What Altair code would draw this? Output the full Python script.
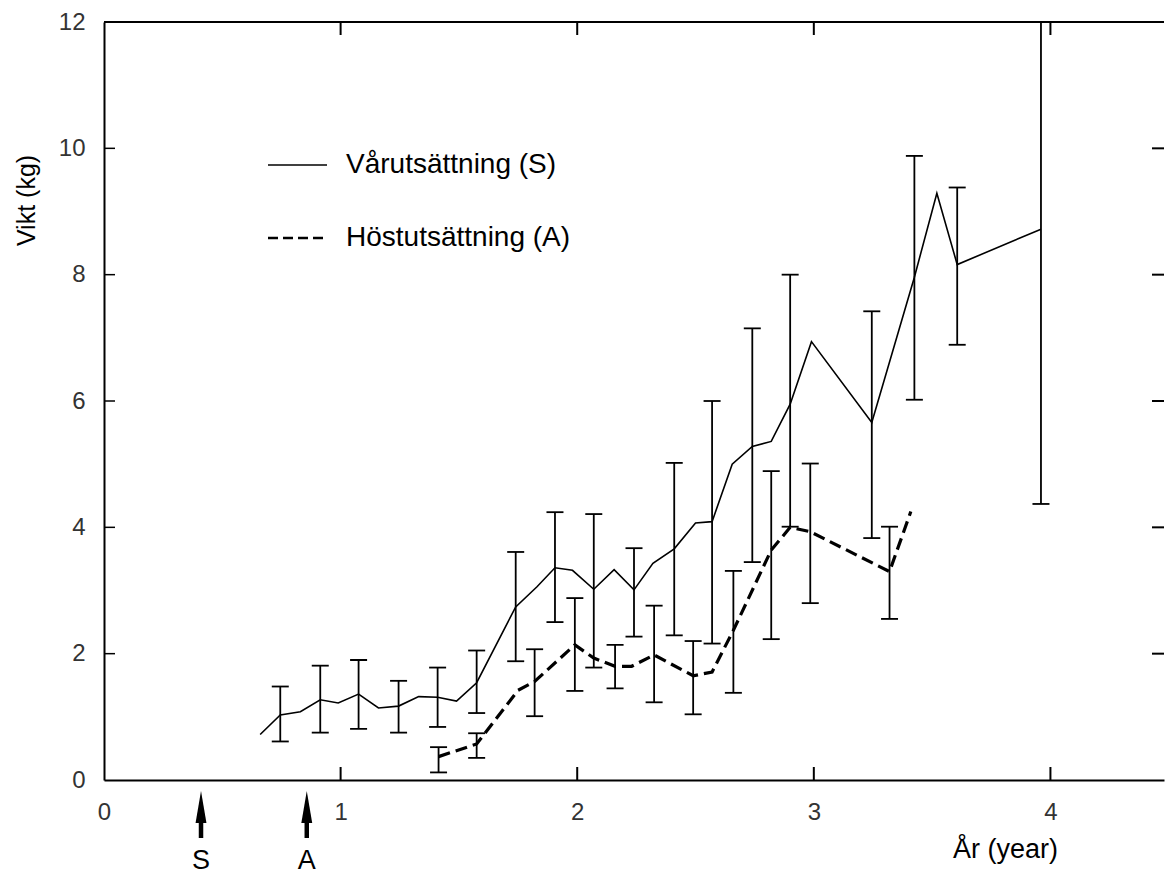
import altair as alt
import pandas as pd

# ---- data ----
s_x = [0.66, 0.745, 0.83, 0.914, 0.99, 1.076, 1.16, 1.245, 1.33, 1.41, 1.49, 1.575, 1.74, 1.83,
       1.906, 1.98, 2.07, 2.156, 2.24, 2.32, 2.41, 2.50, 2.57, 2.655, 2.74, 2.82, 2.90, 2.99,
       3.245, 3.425, 3.52, 3.606, 3.96]
s_y = [0.72, 1.03, 1.08, 1.27, 1.22, 1.36, 1.14, 1.17, 1.32, 1.31, 1.25, 1.54, 2.74, 3.06,
       3.36, 3.32, 3.02, 3.33, 3.01, 3.43, 3.66, 4.07, 4.09, 5.00, 5.28, 5.36, 5.95, 6.94,
       5.66, 7.96, 9.29, 8.16, 8.72]

sb_x = [0.745, 0.914, 1.076, 1.245, 1.41, 1.575, 1.74, 1.906, 2.07, 2.24, 2.41, 2.57, 2.74,
        2.90, 3.245, 3.425, 3.606, 3.96]
sb_lo = [0.61, 0.75, 0.81, 0.75, 0.84, 1.06, 1.88, 2.50, 1.78, 2.27, 2.29, 2.16, 3.45,
         4.01, 3.83, 6.02, 6.89, 4.37]
sb_hi = [1.48, 1.81, 1.90, 1.57, 1.78, 2.05, 3.61, 4.24, 4.21, 3.67, 5.02, 6.00, 7.15,
         8.00, 7.42, 9.88, 9.38, 12.0]

a_x = [1.414, 1.575, 1.75, 1.82, 1.99, 2.07, 2.16, 2.23, 2.325, 2.49, 2.57, 2.66, 2.82,
       2.90, 2.985, 3.32, 3.41]
a_y = [0.37, 0.57, 1.42, 1.56, 2.14, 1.93, 1.80, 1.80, 1.98, 1.65, 1.71, 2.37, 3.64,
       4.00, 3.93, 3.30, 4.25]

ab_x = [1.414, 1.575, 1.82, 1.99, 2.16, 2.325, 2.49, 2.66, 2.82, 2.985, 3.32]
ab_lo = [0.12, 0.35, 1.01, 1.41, 1.45, 1.23, 1.04, 1.38, 2.23, 2.80, 2.55]
ab_hi = [0.52, 0.74, 2.07, 2.88, 2.14, 2.76, 2.20, 3.31, 4.89, 5.01, 4.01]

x_ticks = [0, 1, 2, 3, 4]
y_ticks = [0, 2, 4, 6, 8, 10, 12]
inner_x_ticks = [1, 2, 3, 4]
inner_y_ticks = [2, 4, 6, 8, 10]

arrow_x = [0.41, 0.857]
arrow_labels = ["S", "A"]

legend_labels = ["Vårutsättning (S)", "Höstutsättning (A)"]

x_title = "År (year)"
y_title = "Vikt (kg)"

# ---- layout ----
W, H = 1060, 758
FONT = "Liberation Sans, Arial, Helvetica, sans-serif"

xs = alt.Scale(domain=[0, 4.48], nice=False, zero=False)
ys = alt.Scale(domain=[0, 12], nice=False, zero=True)

x_axis = alt.Axis(values=x_ticks, labelPadding=20, labelFlush=False, title=x_title,
                  titleX=901, titleY=56, titleAlign="center", titleBaseline="top",
                  titleFontSize=27, titleFontWeight="normal", titleColor="black",
                  titleFont=FONT, format="d", domain=True, domainColor="black",
                  domainWidth=2, ticks=False, grid=False, labelFont=FONT,
                  labelFontSize=24, labelColor="#333")
y_axis = alt.Axis(values=y_ticks, labelPadding=19, labelFlush=False, title=y_title,
                  titleX=-78, titleY=178, titleAngle=270, titleAlign="center",
                  titleBaseline="middle", titleFontSize=25, titleFontWeight="normal",
                  titleColor="black", titleFont=FONT, format="d", domain=True,
                  domainColor="black", domainWidth=2, ticks=False, grid=False,
                  labelFont=FONT, labelFontSize=24, labelColor="#333")


def X(field):
    return alt.X(field, scale=xs, axis=x_axis)


def Y(field):
    return alt.Y(field, scale=ys, axis=y_axis)


s_df = pd.DataFrame({"x": s_x, "y": s_y})
a_df = pd.DataFrame({"x": a_x, "y": a_y})
sb_df = pd.DataFrame({"x": sb_x, "y": sb_lo, "hi": sb_hi})
ab_df = pd.DataFrame({"x": ab_x, "y": ab_lo, "hi": ab_hi})
caps_s = pd.DataFrame({"x": sb_x + sb_x, "y": sb_lo + sb_hi})
caps_a = pd.DataFrame({"x": ab_x + ab_x, "y": ab_lo + ab_hi})

s_line = alt.Chart(s_df).mark_line(color="black", strokeWidth=1.6).encode(
    x=X("x:Q"), y=Y("y:Q"))


def bars(df, caps, width):
    r = alt.Chart(df).mark_rule(color="black", strokeWidth=width).encode(
        x=X("x:Q"), y=Y("y:Q"), y2="hi:Q")
    c = alt.Chart(caps).mark_tick(color="black", orient="horizontal", size=17,
                                   thickness=width, opacity=1).encode(
        x=X("x:Q"), y=Y("y:Q"))
    return [r, c]


a_line = alt.Chart(a_df).mark_line(color="black", strokeWidth=3.2, strokeDash=[12, 6]).encode(
    x=X("x:Q"), y=Y("y:Q"))

# frame top line and inner ticks
one = pd.DataFrame({"k": [0]})
top_line = alt.Chart(one).mark_rule(color="black", strokeWidth=2).encode(
    x=alt.value(0), x2=alt.value(W), y=alt.value(0))
bx_ticks = alt.Chart(pd.DataFrame({"x": inner_x_ticks})).mark_rule(color="black", strokeWidth=2).encode(
    x=X("x:Q"), y=alt.value(H), y2=alt.value(H - 13))
tx_ticks = alt.Chart(pd.DataFrame({"x": inner_x_ticks})).mark_rule(color="black", strokeWidth=2).encode(
    x=X("x:Q"), y=alt.value(0), y2=alt.value(13))
ly_ticks = alt.Chart(pd.DataFrame({"y": inner_y_ticks})).mark_rule(color="black", strokeWidth=1.5).encode(
    y=Y("y:Q"), x=alt.value(0), x2=alt.value(11))
ry_ticks = alt.Chart(pd.DataFrame({"y": inner_y_ticks})).mark_rule(color="black", strokeWidth=2).encode(
    y=Y("y:Q"), x=alt.value(W - 12), x2=alt.value(W))

# legend
LY1, LY2 = 143, 216
LX1, LX2, TX = 164, 223, 242
leg_s_line = alt.Chart(one).mark_rule(color="black", strokeWidth=1.6).encode(
    x=alt.value(LX1), x2=alt.value(LX2), y=alt.value(LY1))
leg_a_line = alt.Chart(one).mark_rule(color="black", strokeWidth=2.4, strokeDash=[10, 5]).encode(
    x=alt.value(LX1), x2=alt.value(LX2), y=alt.value(LY2))
leg_s_text = alt.Chart(pd.DataFrame({"label": [legend_labels[0]]})).mark_text(
    align="left", baseline="middle", fontSize=28, font=FONT, color="black").encode(
    x=alt.value(TX), y=alt.value(LY1), text="label:N")
leg_a_text = alt.Chart(pd.DataFrame({"label": [legend_labels[1]]})).mark_text(
    align="left", baseline="middle", fontSize=28, font=FONT, color="black").encode(
    x=alt.value(TX), y=alt.value(LY2), text="label:N")

# arrows under the axis
arr_df = pd.DataFrame({"x": arrow_x, "label": arrow_labels})
arr_shaft = alt.Chart(arr_df).mark_rule(color="black", strokeWidth=4.5).encode(
    x=X("x:Q"), y=alt.value(H + 30), y2=alt.value(H + 58))
arr_head = alt.Chart(arr_df).mark_point(shape="M0,-1L0.34,1L-0.34,1Z", size=1024, filled=True,
                                        color="black", opacity=1, strokeWidth=0).encode(
    x=X("x:Q"), y=alt.value(H + 27))
arr_text = alt.Chart(arr_df).mark_text(fontSize=27, font=FONT, color="black", baseline="middle").encode(
    x=X("x:Q"), y=alt.value(H + 81), text="label:N")

chart = alt.layer(
    s_line, *bars(sb_df, caps_s, 1.8), a_line, *bars(ab_df, caps_a, 1.8),
    top_line, bx_ticks, tx_ticks, ly_ticks, ry_ticks,
    leg_s_line, leg_a_line, leg_s_text, leg_a_text,
    arr_shaft, arr_head, arr_text,
).properties(
    width=W, height=H,
    padding={"left": 104, "top": 22, "right": 1, "bottom": 95},
    autosize=alt.AutoSizeParams(type="none"),
    background="white",
).configure_view(stroke=None)

chart.save("out.html", embed_options={"renderer": "svg", "actions": False})
